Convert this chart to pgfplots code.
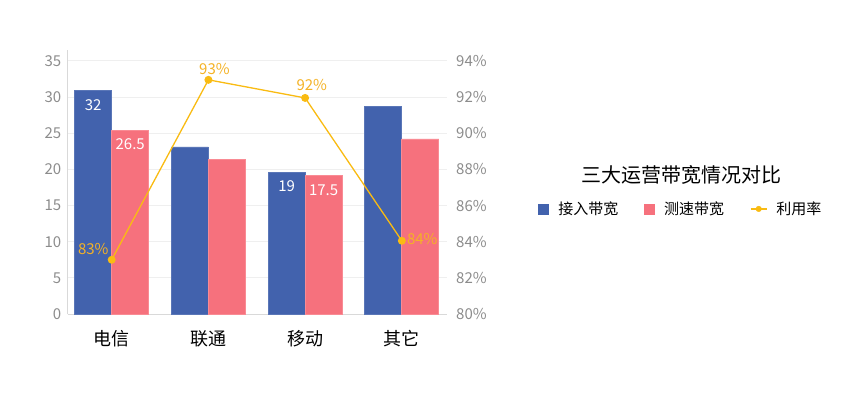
\documentclass[border=0pt]{standalone}
\usepackage{fontspec}
\setmainfont{Noto Sans CJK SC}
\usepackage{pgfplots}
\pgfplotsset{compat=1.18}
\definecolor{cblue}{HTML}{4262AD}
\definecolor{cbluee}{HTML}{5A76B7}
\definecolor{cred}{HTML}{F6717D}
\definecolor{crede}{HTML}{F98B94}
\definecolor{cyel}{HTML}{F9BB12}
\definecolor{clab}{HTML}{F4B225}
\definecolor{ctick}{HTML}{8C8C8C}
\definecolor{cgrid}{HTML}{EFEFEF}
\definecolor{caxis}{HTML}{D9D9D9}
\begin{document}
\begin{tikzpicture}
\useasboundingbox (0pt,0pt) rectangle (860pt,400pt);
\begin{axis}[
  at={(67.7pt,86pt)}, anchor=south west,
  scale only axis, width=379pt, height=264pt,
  xmin=-0.455, xmax=3.464, ymin=0, ymax=36.5,
  axis x line*=bottom, axis y line*=left,
  axis line style={draw=caxis, line width=0.8pt},
  xtick={0,1,2,3}, xticklabels={电信,联通,移动,其它},
  ytick={0,5,...,35},
  major tick length=0pt,
  ymajorgrids, grid style={draw=cgrid, line width=0.8pt},
  /pgf/number format/assume math mode=true,
  yticklabel style={font=\fontsize{15}{18}\selectfont, text=ctick, xshift=-3pt},
  xticklabel style={font=\fontsize{18}{21}\selectfont, text=black, yshift=-13pt},
  legend style={at={(1.618,0.398)}, anchor=center, draw=none, fill=none,
    font=\fontsize{15}{18}\selectfont, legend columns=3,
    /tikz/every odd column/.append style={column sep=7pt},
    /tikz/every even column/.append style={column sep=24pt}},
  legend cell align=left,
]
\addplot[ybar, bar width=0.3826, bar shift=-0.1913, fill=cblue, draw=cbluee, line width=0.8pt,
  legend image code/.code={\fill[cblue] (0pt,-5pt) rectangle (10pt,5pt);}]
  coordinates {(0,30.9) (1,23.1) (2,19.6) (3,28.7)};
\addlegendentry{接入带宽}
\addplot[ybar, bar width=0.3826, bar shift=0.1913, fill=cred, draw=crede, line width=0.8pt,
  legend image code/.code={\fill[cred] (0pt,-5pt) rectangle (10pt,5pt);}]
  coordinates {(0,25.4) (1,21.4) (2,19.1) (3,24.2)};
\addlegendentry{测速带宽}
\addlegendimage{legend image code/.code={\draw[cyel, line width=1.3pt] (0pt,0pt) -- (16pt,0pt); \fill[cyel] (8pt,0pt) circle (2.8pt);}}
\addlegendentry{利用率}
\addplot[draw=none, forget plot, point meta=explicit symbolic, nodes near coords,
  every node near coord/.append style={anchor=center, xshift=-18.5pt, yshift=-14.3pt, text=white, inner sep=0pt, font=\fontsize{15}{18}\selectfont}]
  coordinates {(0,30.9) [32] (2,19.6) [19]};
\addplot[draw=none, forget plot, point meta=explicit symbolic, nodes near coords,
  every node near coord/.append style={anchor=center, xshift=18.5pt, yshift=-14.3pt, text=white, inner sep=0pt, font=\fontsize{15}{18}\selectfont}]
  coordinates {(0,25.4) [26.5] (2,19.1) [17.5]};
\end{axis}
\begin{axis}[
  at={(67.7pt,86pt)}, anchor=south west,
  scale only axis, width=379pt, height=264pt,
  xmin=-0.455, xmax=3.464, ymin=80, ymax=94.6,
  axis x line=none, axis y line*=right,
  y axis line style={draw=none},
  ytick={80,82,...,94},
  major tick length=0pt,
  /pgf/number format/assume math mode=true,
  yticklabel={\pgfmathprintnumber{\tick}\%},
  yticklabel style={font=\fontsize{15}{18}\selectfont, text=ctick, xshift=6pt},
]
\addplot[cyel, line width=1.3pt, mark=*, mark size=3.3pt, mark options={fill=cyel, draw=cyel}]
  coordinates {(0,83.0) (1,92.95) (2,91.95) (3,84.05)};
\addplot[draw=none, point meta=explicit symbolic, nodes near coords,
  every node near coord/.append style={anchor=center, xshift=-18.4pt, yshift=10.7pt, text=clab, inner sep=0pt, font=\fontsize{15}{18}\selectfont}]
  coordinates {(0,83.0) [83\%]};
\addplot[draw=none, point meta=explicit symbolic, nodes near coords,
  every node near coord/.append style={anchor=center, xshift=6pt, yshift=10.7pt, text=clab, inner sep=0pt, font=\fontsize{15}{18}\selectfont}]
  coordinates {(1,92.95) [93\%]};
\addplot[draw=none, point meta=explicit symbolic, nodes near coords,
  every node near coord/.append style={anchor=center, xshift=6.7pt, yshift=13pt, text=clab, inner sep=0pt, font=\fontsize{15}{18}\selectfont}]
  coordinates {(2,91.95) [92\%]};
\addplot[draw=none, point meta=explicit symbolic, nodes near coords,
  every node near coord/.append style={anchor=center, xshift=20.5pt, yshift=1.4pt, text=clab, inner sep=0pt, font=\fontsize{15}{18}\selectfont}]
  coordinates {(3,84.05) [84\%]};
\end{axis}
\node at (681pt,225pt) {\fontsize{20}{24}\selectfont 三大运营带宽情况对比};
\end{tikzpicture}
\end{document}
